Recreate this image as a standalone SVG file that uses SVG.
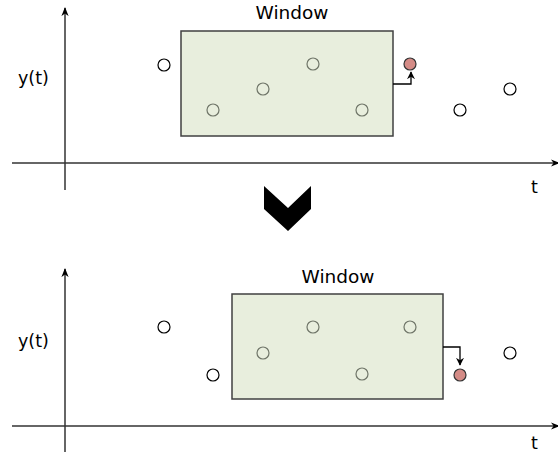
<svg xmlns="http://www.w3.org/2000/svg" width="558" height="459" viewBox="0 0 558 459">
<style>
.txt{font-family:"DejaVu Sans",sans-serif;font-size:17.5px;fill:#000}
.wt{font-size:18.5px}
.pt{fill:#fff;stroke:#000;stroke-width:1.2}
.pin{fill:none;stroke:#6f7568;stroke-width:1.2}
.red{fill:#d48b86;stroke:#333;stroke-width:1.2}
.win{fill:#e8eedd;stroke:#404040;stroke-width:1.5}
.axis{stroke:#333;stroke-width:1.5;fill:none}
.conn{stroke:#000;stroke-width:1.3;fill:none}
</style>
<defs>
<marker id="ah" viewBox="0 0 10 10" refX="9" refY="5" markerWidth="8" markerHeight="8" markerUnits="userSpaceOnUse" orient="auto">
<path d="M0,0 L10,5 L0,10 L3,5 Z" fill="#000"/>
</marker>
<marker id="axh" viewBox="0 0 10 10" refX="9" refY="5" markerWidth="9" markerHeight="9" markerUnits="userSpaceOnUse" orient="auto">
<path d="M0,1 L10,5 L0,9 L3,5 Z" fill="#000"/>
</marker>
</defs>

<g id="top-panel">
<g id="top-axes">
<line class="axis" x1="65" y1="190" x2="65" y2="8" marker-end="url(#axh)"/>
<line class="axis" x1="12" y1="163" x2="559" y2="163" marker-end="url(#axh)"/>
<text class="txt" x="18" y="84">y(t)</text>
<text class="txt" x="531" y="193">t</text>
</g>
<g id="top-window">
<rect class="win" x="181" y="31" width="212" height="105"/>
<text class="txt wt" x="292" y="19" text-anchor="middle">Window</text>
</g>
<g id="top-points">
<circle class="pt" cx="164" cy="65" r="6"/>
<circle class="pin" cx="213" cy="110" r="6"/>
<circle class="pin" cx="263" cy="89" r="6"/>
<circle class="pin" cx="313" cy="64" r="6"/>
<circle class="pin" cx="362" cy="110" r="6"/>
<circle class="red" cx="410" cy="64" r="6"/>
<circle class="pt" cx="460" cy="110" r="6"/>
<circle class="pt" cx="510" cy="89" r="6"/>
</g>
</g>

<g id="chevron">
<polygon points="264,186 288,208 311,186 311,209 288,231 264,209" fill="#000"/>
</g>

<g id="bottom-panel">
<g id="bottom-axes">
<line class="axis" x1="65" y1="452" x2="65" y2="269" marker-end="url(#axh)"/>
<line class="axis" x1="12" y1="426" x2="559" y2="426" marker-end="url(#axh)"/>
<text class="txt" x="18" y="347">y(t)</text>
<text class="txt" x="531" y="449">t</text>
</g>
<g id="bottom-window">
<rect class="win" x="232" y="294" width="211" height="105"/>
<text class="txt wt" x="338" y="283" text-anchor="middle">Window</text>
</g>
<g id="bottom-points">
<circle class="pt" cx="164" cy="327" r="6"/>
<circle class="pt" cx="213" cy="375" r="6"/>
<circle class="pin" cx="263" cy="353" r="6"/>
<circle class="pin" cx="313" cy="327" r="6"/>
<circle class="pin" cx="362" cy="374" r="6"/>
<circle class="pin" cx="410" cy="327" r="6"/>
<circle class="red" cx="460" cy="375" r="6"/>
<circle class="pt" cx="510" cy="353" r="6"/>
</g>
</g>

<g id="connectors">
<path class="conn" d="M393,84 H411 V72" marker-end="url(#ah)"/>
<path class="conn" d="M443,347 H460 V365" marker-end="url(#ah)"/>
</g>
</svg>
